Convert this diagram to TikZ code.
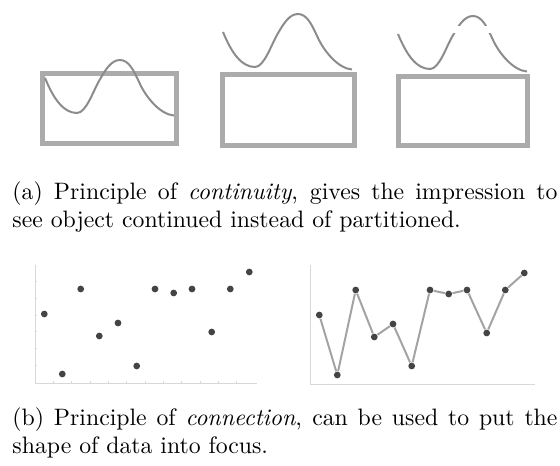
\documentclass[tikz,border=0pt]{standalone}
\usepackage{xcolor}
\usetikzlibrary{positioning}
\definecolor{framegray}{HTML}{ABABAB}
\definecolor{wavegray}{HTML}{8C8C8C}
\definecolor{dotgray}{HTML}{444444}
\definecolor{axisgray}{HTML}{D8D8D8}
\definecolor{linkgray}{HTML}{A3A3A3}

\tikzset{
  panel/.style={draw=framegray, line width=2pt},
  bump/.pic={
    \draw[wavegray, line width=0.8pt] (-75,18) .. controls (-66,40) and (-56,53) .. (-43,53)
      .. controls (-34,53) and (-27,31.5) .. (-21,21) .. controls (-15,10.5) and (-9,0) .. (0,0)
      .. controls (9,0) and (14,11) .. (20,24) .. controls (26,37) and (40,54.5) .. (54,55.5);
  },
  dot/.style={circle, fill=dotgray, inner sep=0pt, minimum size=2.7pt},
  link/.style={linkgray, line width=0.8pt},
  axisline/.style={axisgray, line width=0.4pt},
  caption/.style={anchor=north west, align=justify, text width=218pt, inner sep=0pt, font=\fontsize{9.5}{11.2}\selectfont}
}

\begin{document}
\begin{tikzpicture}[x=0.4pt, y=0.4pt, yscale=-1]
\useasboundingbox (0,0) rectangle (560,466);
% (a) continuity
\draw[panel] (42,73.5) rectangle (176,144);
\draw[panel] (222,75) rectangle (354,146);
\draw[panel] (398,77) rectangle (527,146);
\pic[transform shape] at (120,60) {bump};
\pic[transform shape] at (298,14) {bump};
\pic[transform shape] at (473,16) {bump};
\fill[white] (443,26) rectangle (503,33);
\node[caption] (capa) at (12,181) {(a) Principle of \emph{continuity}, gives the impression to\linebreak see object continued instead of partitioned.};
% (b) connection
\begin{scope}
\draw[axisline] (35,265) -- (35,383) -- (257,383);
\foreach \ty in {281.7,298.3,315,331.7,348.3,365} \draw[axisline] (35,\ty) -- (37,\ty);
\foreach \tx in {53.3,71.7,90,108.3,126.7,145,163.3,181.7,200,218.3,236.7} \draw[axisline] (\tx,383) -- (\tx,381);
\foreach \px/\py [count=\k] in {44.3/314,62.3/374,80.7/289,99.3/336,118/323,136.7/366,155/289,173.7/293,192/289,211.7/332,230.3/289,249.3/272}
  \node[dot] (s\k) at (\px,\py) {};
\end{scope}
\begin{scope}[shift={(275,0)}]
\draw[axisline] (35,265) -- (35,384) -- (260,384);
\foreach \px/\py [count=\k] in {44.3/315,62.3/375,80.7/290,99.3/337,118/324,136.7/366,155/290,173.7/294,192/290,211.7/333,230.3/290,249.3/273}
  \node[dot] (p\k) at (\px,\py) {};
\foreach \k [remember=\k as \prev (initially 1)] in {2,...,12}
  \draw[link] (p\prev) -- (p\k);
\end{scope}
\node[caption] (capb) at (12,407) {(b) Principle of \emph{connection}, can be used to put the\linebreak shape of data into focus.};
\end{tikzpicture}
\end{document}
